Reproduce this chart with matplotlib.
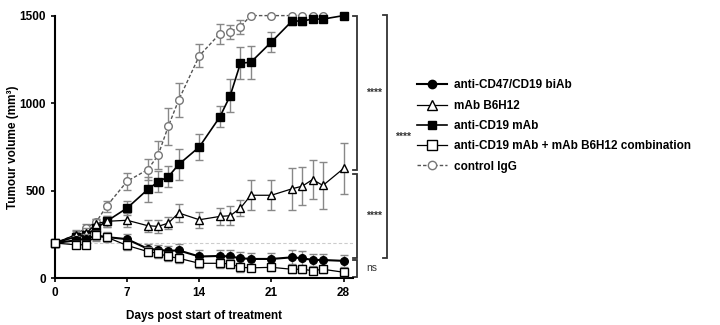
import matplotlib.pyplot as plt
from matplotlib.lines import Line2D

plt.rcParams['font.family'] = ['Liberation Sans', 'DejaVu Sans']
plt.rcParams['font.weight'] = 'bold'

# days measured (control group stops at day 26)
days = [0, 2, 3, 4, 5, 7, 9, 10, 11, 12, 14, 16, 17, 18, 19, 21, 23, 24, 25, 26, 28]
days_ctrl = days[:-1]

# mean tumour volume (mm3) and error
biab = [200, 215, 225, 240, 234, 222, 167, 161, 155, 158, 123, 126, 123, 113, 109, 109, 118, 113, 103, 103, 98]
biab_err = [0, 25, 25, 30, 30, 30, 30, 30, 30, 35, 35, 35, 35, 35, 35, 35, 40, 40, 35, 35, 35]

b6h12 = [200, 247, 255, 310, 324, 330, 299, 295, 314, 372, 333, 352, 356, 400, 473, 473, 510, 525, 563, 529, 626]
b6h12_err = [0, 30, 30, 30, 30, 40, 35, 35, 35, 50, 45, 50, 55, 45, 85, 85, 120, 110, 110, 135, 145]

cd19 = [200, 235, 245, 286, 324, 400, 506, 550, 579, 649, 749, 921, 1042, 1228, 1233, 1349, 1469, 1469, 1480, 1480, 1500]
cd19_err = [0, 20, 20, 20, 30, 40, 70, 60, 60, 90, 75, 60, 95, 90, 95, 57, 25, 20, 10, 10, 0]

combo = [200, 190, 190, 245, 234, 186, 151, 141, 123, 113, 84, 84, 81, 61, 58, 61, 50, 50, 42, 50, 33]
combo_err = [0, 20, 20, 25, 25, 25, 25, 25, 25, 25, 25, 25, 25, 25, 20, 20, 20, 20, 20, 20, 20]

ctrl = [200, 247, 287, 320, 410, 553, 620, 701, 868, 1017, 1270, 1397, 1408, 1437, 1500, 1500, 1500, 1500, 1500, 1500]
ctrl_err = [0, 20, 20, 20, 30, 50, 60, 80, 105, 95, 65, 57, 40, 40, 0, 0, 0, 0, 0, 0]

labels = ['anti-CD47/CD19 biAb', 'mAb B6H12', 'anti-CD19 mAb',
          'anti-CD19 mAb + mAb B6H12 combination', 'control IgG']

fig = plt.figure(figsize=(7.2, 3.25), dpi=100)
ax = fig.add_axes([0.0764, 0.1446, 0.4136, 0.8074])

ax.axhline(200, color='#cccccc', lw=0.8, ls=(0, (3, 2)), zorder=0)

ebkw = dict(ecolor='#888888', elinewidth=1.0, capsize=3, capthick=1.0)
conts = []
conts.append(ax.errorbar(days_ctrl, ctrl, yerr=ctrl_err, fmt='o--', color='#555555', mfc='white',
                         mec='#777777', ms=5.5, lw=1.0, dashes=(2.5, 1.5), zorder=2, **ebkw))
conts.append(ax.errorbar(days, cd19, yerr=cd19_err, fmt='s-', color='black', mfc='black',
                         ms=5.5, lw=1.2, zorder=3, **ebkw))
conts.append(ax.errorbar(days, b6h12, yerr=b6h12_err, fmt='^-', color='black', mfc='white',
                         ms=6, lw=0.9, zorder=3, **ebkw))
conts.append(ax.errorbar(days, biab, yerr=biab_err, fmt='o-', color='black', mfc='black',
                         ms=5.5, lw=1.5, zorder=4, **ebkw))
conts.append(ax.errorbar(days, combo, yerr=combo_err, fmt='s-', color='black', mfc='white',
                         ms=6, lw=0.9, zorder=5, **ebkw))
# let markers at 1500 overhang the top of the axes
for c in conts:
    for art in c.get_children():
        art.set_clip_on(False)

ax.set_xlim(0, 28.9)
ax.set_ylim(0, 1500)
ax.set_xticks([0, 7, 14, 21, 28])
ax.set_yticks([0, 500, 1000, 1500])
ax.spines['top'].set_visible(False)
ax.spines['right'].set_visible(False)
ax.spines['left'].set_linewidth(1.5)
ax.spines['bottom'].set_linewidth(1.5)
ax.tick_params(width=1.2, length=3, labelsize=8.5)
ax.set_xlabel('Days post start of treatment', fontsize=8.5, fontweight='bold', labelpad=8)
ax.set_ylabel('Tumour volume (mm³)', fontsize=8.5, fontweight='bold')
ax.yaxis.set_label_coords(-0.12, 0.5)


def bracket(x, y0, y1, text, tx, fs=7.5, weight='bold'):
    ax.plot([x - 0.35, x, x, x - 0.35], [y0, y0, y1, y1], color='#333333',
            lw=1.3, clip_on=False, solid_joinstyle='miter')
    ax.text(tx, (y0 + y1) / 2, text, fontsize=fs, fontweight=weight,
            va='center', ha='left', color='#333333', clip_on=False)


bracket(29.3, cd19[-1], b6h12[-1] - 10, '****', 30.2)
bracket(29.3, b6h12[-1] - 30, biab[-1] + 15, '****', 30.2)
bracket(29.3, biab[-1] + 5, combo[-1] - 25, 'ns', 30.2, weight='normal')
bracket(32.2, cd19[-1] + 5, biab[-1] + 15, '****', 33.0)

handles = [
    Line2D([], [], color='black', marker='o', mfc='black', ms=6, lw=1.5),
    Line2D([], [], color='black', marker='^', mfc='white', ms=6.5, lw=0.9),
    Line2D([], [], color='black', marker='s', mfc='black', ms=6, lw=1.2),
    Line2D([], [], color='black', marker='s', mfc='white', ms=7, lw=0.9),
    Line2D([], [], color='#555555', marker='o', mfc='white', mec='#777777', ms=6,
           lw=1.0, ls='--', dashes=(2.5, 1.5)),
]
fig.legend(handles, labels, loc='upper left', bbox_to_anchor=(0.572, 0.77),
           frameon=False, fontsize=8.5, handlelength=2.6, handletextpad=0.6,
           labelspacing=0.7, borderaxespad=0)

fig.savefig('out.png', dpi=100)
